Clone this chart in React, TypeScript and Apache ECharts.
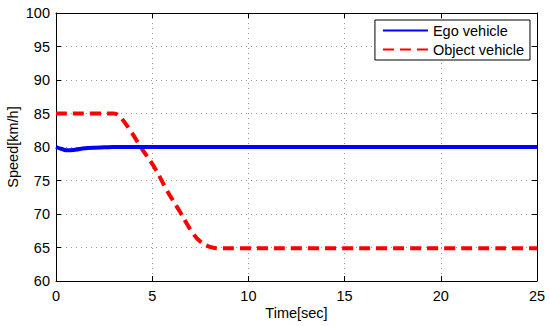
import React, { useEffect, useRef } from "react";
import * as echarts from "echarts";

const xTicks = [0, 5, 10, 15, 20, 25];
const yTicks = [60, 65, 70, 75, 80, 85, 90, 95, 100];

const egoTime = [0, 0.3, 0.6, 1.0, 1.5, 2.0, 2.5, 3.0, 25];
const egoSpeed = [80, 79.7, 79.5, 79.6, 79.8, 79.9, 79.95, 80, 80];

const objTime = [0, 3.0, 3.3, 3.85, 4.45, 5.15, 5.75, 6.45, 7.05, 7.5, 8.0, 8.5, 25];
const objSpeed = [85, 85, 84.6, 82.5, 79.8, 76.8, 73.6, 70.3, 67.4, 65.9, 65.1, 64.9, 64.9];

const FONT = "Liberation Sans";

export default function App() {
  const ref = useRef<HTMLDivElement>(null);
  useEffect(() => {
    document.body.style.margin = "0";
    const chart = echarts.init(ref.current!, null, { renderer: "svg" });
    const egoData = egoTime.map((t, i) => [t, egoSpeed[i]]);
    const objData = objTime.map((t, i) => [t, objSpeed[i]]);
    const tickStyle = { color: "#000", fontSize: 14.5, fontFamily: FONT };
    chart.setOption({
      animation: false,
      backgroundColor: "#fff",
      grid: { left: 56, right: 13, top: 13, bottom: 45, containLabel: false, outerBoundsMode: "none" },
      legend: {
        show: true,
        orient: "vertical",
        right: 20,
        top: 20,
        backgroundColor: "#fff",
        borderColor: "#000",
        borderWidth: 1,
        borderRadius: 0,
        padding: [3, 6, 3, 7],
        itemGap: 4,
        itemWidth: 45,
        itemHeight: 14,
        itemStyle: { opacity: 0, borderWidth: 0 },
        textStyle: { color: "#000", fontSize: 14.5, fontFamily: FONT },
        data: ["Ego vehicle", "Object vehicle"],
      },
      xAxis: [
        {
          type: "value",
          min: 0,
          max: 25,
          interval: 5,
          name: "Time[sec]",
          nameLocation: "middle",
          nameGap: 24,
          nameMoveOverlap: false,
          nameTextStyle: { color: "#000", fontSize: 14.5, fontFamily: FONT },
          axisLine: { show: true, onZero: false, lineStyle: { color: "#000", width: 1 } },
          axisTick: { show: true, inside: true, length: 5, lineStyle: { color: "#000" } },
          axisLabel: { ...tickStyle, margin: 7 },
          splitLine: { show: true, lineStyle: { color: "#999", type: [1, 4], width: 1 } },
        },
        {
          type: "value",
          position: "top",
          min: 0,
          max: 25,
          interval: 5,
          axisLine: { show: true, onZero: false, lineStyle: { color: "#000", width: 1 } },
          axisTick: { show: true, inside: true, length: 5, lineStyle: { color: "#000" } },
          axisLabel: { show: false },
          splitLine: { show: false },
        },
      ],
      yAxis: [
        {
          type: "value",
          min: 60,
          max: 100,
          interval: 5,
          name: "Speed[km/h]",
          nameLocation: "middle",
          nameGap: 36,
          nameMoveOverlap: false,
          nameTextStyle: { color: "#000", fontSize: 14.5, fontFamily: FONT },
          axisLine: { show: true, onZero: false, lineStyle: { color: "#000", width: 1 } },
          axisTick: { show: true, inside: true, length: 5, lineStyle: { color: "#000" } },
          axisLabel: { ...tickStyle, margin: 6 },
          splitLine: { show: true, lineStyle: { color: "#999", type: [1, 4], width: 1 } },
        },
        {
          type: "value",
          position: "right",
          min: 60,
          max: 100,
          interval: 5,
          axisLine: { show: true, onZero: false, lineStyle: { color: "#000", width: 1 } },
          axisTick: { show: true, inside: true, length: 5, lineStyle: { color: "#000" } },
          axisLabel: { show: false },
          splitLine: { show: false },
        },
      ],
      series: [
        {
          name: "Ego vehicle",
          type: "line",
          data: egoData,
          showSymbol: false,
          symbol: "none",
          smooth: 0.4,
          lineStyle: { color: "#0000ff", width: 4 },
          itemStyle: { color: "#0000ff" },
          z: 3,
        },
        {
          name: "Object vehicle",
          type: "line",
          data: objData,
          showSymbol: false,
          symbol: "none",
          smooth: 0.4,
          lineStyle: { color: "#ff0000", width: 4, type: [11, 6] },
          itemStyle: { color: "#ff0000" },
          z: 2,
        },
      ],
    });
    return () => chart.dispose();
  }, []);
  return (
    <div
      ref={ref}
      style={{ position: "fixed", left: 0, top: 0, width: 550, height: 326 }}
    />
  );
}
